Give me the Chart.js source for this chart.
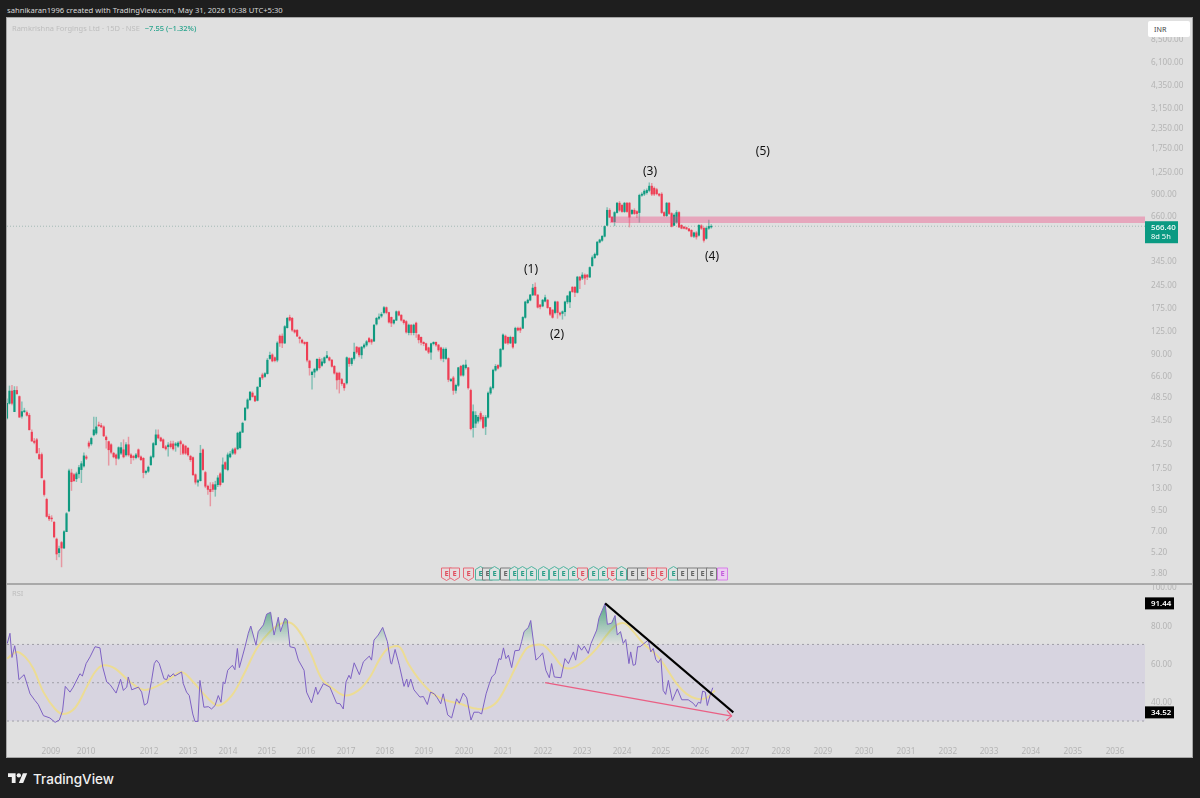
<!DOCTYPE html>
<html>
<head>
<meta charset="utf-8">
<title>Ramkrishna Forgings Ltd</title>
<script src="https://cdn.jsdelivr.net/npm/chart.js@4/dist/chart.umd.min.js"></script>
<style>
html,body{margin:0;padding:0;background:#1e1e1e;width:1200px;height:798px;overflow:hidden}
body{position:relative;font-family:"Noto Sans",sans-serif}
#head{position:absolute;left:7px;top:4px;color:#d8d8d8;font-size:7.65px;line-height:12px;white-space:nowrap}
#panel{position:absolute;left:7px;top:18px;width:1185px;height:739px;background:#e0e0e0;box-shadow:0 0 0 1px #a6a6a6}
#split{position:absolute;left:7px;top:582.5px;width:1185px;height:2px;background:#a9a9a9}
#priceChart{position:absolute;left:7px;top:18px}
#rsiChart{position:absolute;left:7px;top:583px}
#legend{position:absolute;left:12px;top:23px;font-size:7.5px;line-height:11px;color:#bdbdbd;white-space:nowrap}
#legend b{font-weight:500;color:#27a38c;margin-left:3px}
#rsiName{position:absolute;left:12px;top:588px;font-size:7.5px;line-height:11px;color:#bdbdbd}
#inr{position:absolute;left:1148px;top:21px;width:36px;padding-left:6px;height:16px;line-height:16px;background:#fff;border-radius:2px;font-size:7.2px;color:#444}
#logo{position:absolute;left:8px;top:772.5px}
#brand{position:absolute;left:33px;top:769px;color:#f0f0f0;font-family:Inter,sans-serif;font-weight:500;font-size:13.5px;line-height:20px}
</style>
</head>
<body>
<div id="panel"></div>
<canvas id="priceChart" width="1185" height="565"></canvas>
<canvas id="rsiChart" width="1185" height="174"></canvas>
<div id="split"></div>
<div id="head">sahnikaran1996 created with TradingView.com, May 31, 2026 10:38 UTC+5:30</div>
<div id="legend">Ramkrishna Forgings Ltd · 15D · NSE <b>−7.55 (−1.32%)</b></div>
<div id="rsiName">RSI</div>
<div id="inr">INR</div>
<svg id="logo" width="19.5" height="10" viewBox="0 4 36 18"><path fill="#f0f0f0" d="M14 22H7V11H0V4h14v18zM28 22h-8l7.5-18h8L28 22z"/><circle fill="#f0f0f0" cx="20" cy="8" r="4"/></svg>
<div id="brand">TradingView</div>
<script>
// 15D candles
const opens = [
 35.5,44,52.5,39,53,48.5,36.5,39,38.5,37,
 29,25.5,26,21,21,14.4,11,8.6,8.4,7.9,
 6.2,5.1,5.9,5.45,6.9,9.3,16.1,15.7,14.8,15.9,
 16.9,17.8,20.3,24.8,24.5,27.9,28.6,32.2,31.9,31.3,
 27,25.3,24.2,21.4,20.9,19.9,21.4,22.5,20.9,24.2,
 20.9,20.5,20.1,22.5,20.3,19.9,16.2,16.5,18.1,20.3,
 24.2,27.9,26.7,26,23.5,23.5,24.5,24.5,24,23.7,
 25.3,24.2,23.7,23,20.5,20.1,15.7,14.1,14.4,22.5,
 16.2,13.3,12.7,13.6,12.7,13.6,15.9,14.1,18.7,16.9,
 20.3,21.4,22.8,22.8,23.2,29,34.6,41,46.2,51,
 48.8,45.9,56,66.3,64.8,67.5,84,88.5,85,82,
 116,116,105,131,152,150,126,126,114,109.5,
 106,106,81,66.5,69,71,83,76,79,85,
 85,82,75,68,68,62,58.5,59,84,78,
 84,99,98,88.5,99,102,112,110,108,138,
 150,155,163,175,163,152,140,146,165,157,
 146,143,122,136,122,140,118,114,106,104,
 98,92,104,106,102,98,84,84,84,61,
 63.5,53,57,75,66,73.5,73.5,53,31,33,
 34,38,36,31.5,36,51,55,71,76,75,
 96,116,114,105,114,105,130,130,130,152,
 188,195,210,235,210,182,179,192,195,175,
 169,163,190,162,161,165,190,190,235,235,
 218,272,268,280,280,272,320,360,375,450,
 462,490,574,713,645,605,690,790,766,700,
 790,790,680,713,700,690,885,900,920,950,
 1010,980,960,900,900,690,660,790,680,574,
 600,690,574,560,555,545,534,490,515,497,
 570,550,475,550,560]
const closes = [
 44,52.5,44,53,50.5,36,39,39.5,37,30,
 25.5,25,21.5,19.8,15,11.8,8.6,8.3,8.3,6.4,
 5,5.4,5.45,6.9,8.95,16.6,14.2,14.4,15.9,17.4,
 18.4,20.6,19.9,23.7,26.5,30,31.3,31.8,31.3,27.5,
 26,22.5,21.7,20.3,19.9,23.2,23.2,20.3,24.2,20.9,
 20.1,20.1,20.9,20.3,19.5,16.2,16.5,17.5,20.3,24.6,
 27.9,26.7,25.6,23.2,22.8,24.1,23.5,22.8,24.5,24.8,
 24.5,21.4,21.4,20.9,19.5,15.7,14.1,14.4,21.4,16.9,
 13.3,12.7,12.3,12.7,13.6,15,13.6,18.1,17.1,20.9,
 21.2,22.5,21.4,28.6,29,33,41,46.2,51.8,48.5,
 45.5,55.5,63.5,63.5,67.5,82,88,81,81.5,105,
 105,105,133,150,146,126.5,123,116,112,106,
 104,82,73.5,69,72,83,73.5,80,85,87.5,
 82,75,68,61.6,62,58.5,55,85,78,84,
 92,92,88.5,99,102,107,107,106.5,136,150,
 153,159,175,163,142,140,146,165,157,146,
 141,123,136,122,136,122,110,106,104,95,
 92,104,106,102,95,84,96,96,62,62,
 53,57,73.5,66,76,76.5,55,30.5,39,37,
 36,35,31,36,51,55,71,75,73,96,
 118,105,105,114,99,130,126.5,126.5,152,190,
 195,210,232,210,176,177,195,202,175,159,
 152,190,163,159,165,190,207,220,220,218,
 272,260,280,268,272,312,360,378,450,465,
 490,565,713,645,605,690,790,713,700,790,
 700,645,713,680,680,885,900,940,950,1010,
 900,900,905,885,690,660,790,680,565,665,
 690,560,550,550,545,530,490,515,485,574,
 550,462,550,565,566.4]
const highs = [
 47,56.5,57,56,56,49,45,41,39.5,38,
 30,26.5,26.5,23,21.5,14.6,11.2,8.9,8.7,8,
 6.3,5.6,6,7,9.1,17,17,16,16.3,18,
 19,21.5,20.8,25.5,27,36,36,33.5,33,31.8,
 27.5,25.5,24.6,21.7,21.2,23.5,25,26,25,27,
 21.3,20.8,21.4,22.8,20.6,20.1,16.8,17.8,20.6,25,
 30,30,27,26.3,24,25,25.5,25.5,25,25.3,
 25.8,24.5,24,23.3,20.8,20.3,15.9,14.7,24,22.8,
 16.5,13.5,14,14,14.3,15.5,16.2,20,19,21.5,
 22,23,23.2,29,29.5,33.5,41.5,47,52,52,
 49,56,64,68,68.5,84,92,90,86,107,
 118,120,135,152,157,152,128,128,116,111,
 107,107,82,70,73,84,85,84,86,93,
 86,83,76,69,69,63,59,86,85,85,
 105,100,99,100,104,109,114,111,137,152,
 160,163,178,177,164,153,147,167,167,158,
 147,145,138,137,138,142,119,115,107,105,
 99,105,107,107,103,99,98,98,85,63,
 65,58,74,76,77,82,74,54,43,39,
 37,39,37,37,52,56,72,77,77,97,
 120,118,115,116,115,132,132,132,154,192,
 198,212,245,250,211,183,197,210,197,176,
 170,192,192,164,167,192,209,222,237,237,
 275,275,290,285,283,315,370,385,455,470,
 495,570,740,730,650,700,800,810,780,800,
 800,800,720,730,710,900,920,960,970,1060,
 1050,1000,980,910,920,700,800,800,690,680,
 710,700,580,565,560,550,540,520,525,580,
 580,560,560,620,580]
const lows = [
 35,43.5,43,39,50,36,35.5,38.5,36.5,30,
 25.5,24.5,21.5,19.5,15,11.5,8.5,8.1,8,6.3,
 4.6,4.8,4.15,5.4,6.9,9.2,12.5,14.2,14.2,15,
 14,17.5,19.5,23,24,27.5,28,31.5,31,27.2,
 23,18,21.2,20,18.1,19.6,21,20,20.5,20.5,
 18.4,19.4,19.7,20,19.2,15,15.8,16.2,18,20,
 24,26.3,25.3,23,22.4,20.5,23,22.4,22,23.3,
 21,21,21,20.5,19,15.5,13.7,13.3,14.3,16.7,
 13,11.8,10,12.3,11.5,13.2,13.3,14,16.9,16.6,
 20,21,21,22.5,22.8,28.8,34.2,40.5,46,48,
 45,45.5,55.8,62,64,67,83,80,80,80,
 100,98,104,130,144,124,121,115,105,104,
 102,80,66,54,64,70,72,75,78,84,
 81,74,67,54,51,57,53,58,75,76,
 82,90,86,84,97,100,105,103,107,136,
 147,152,160,160,140,133,138,145,155,144,
 138,121,118,118,118,114,105,102,101,94,
 90,83,102,100,93,82,80,83,60,60,
 50,51,56,65,65,72,54,30,27,31,
 33,34,30.5,28,35.5,50,54,70,72,74,
 95,104,103,104,97,104,125,122,129,150,
 185,193,208,208,174,172,177,190,173,156,
 150,160,150,155,148,155,185,175,218,205,
 216,230,262,245,262,270,318,355,370,445,
 455,485,570,640,600,570,685,700,690,690,
 690,560,670,670,640,600,870,880,900,930,
 880,880,890,870,680,650,650,670,560,570,
 590,555,545,545,540,525,485,480,470,490,
 540,450,470,540,550]

const priceTicks = [8500,6100,4350,3150,2350,1750,1250,900,660,345,245,175,125,90,66,48.5,34.5,24.5,17.5,13,9.5,7,5.2,3.8]
const lastPrice = 566.4
const zoneTop = 651
const zoneBottom = 593
const zoneStart = 243

const waveLabels = ["(1)","(2)","(3)","(4)","(5)"]
const waveBars = [211.3,221.8,259.3,284.3,304.8]
const wavePrices = [305,119,1250,367,1668]

const earningsBars = [177,180.2,185.9,190.7,193.5,196.4,200.8,204.4,207.7,211.3,216.1,220.6,224.2,228.2,231.9,236.3,240.3,244,247.6,252,256,260.1,263.7,268.5,272.2,276.2,280.2,283.9,288.3]
const earningsKinds = ["miss","miss","miss","beat","none","beat","none","beat","beat","beat","beat","beat","beat","beat","miss","beat","beat","miss","beat","none","none","miss","miss","beat","none","none","none","none","next"]

// time axis, positions in bars
const yearLabels = ["2009","2010","2012","2013","2014","2015","2016","2017","2018","2019","2020","2021","2022","2023","2024","2025","2026","2027","2028","2029","2030","2031","2032","2033","2034","2035","2036"]
const yearBars = [17.7,31.9,57.3,73,89.1,104.8,120.6,136.7,152.4,168.1,184.3,200,216.1,231.9,248,263.7,279.4,295.6,312.1,329,345.6,362.5,379.4,396,412.9,429.8,446.8]
const lastBar = 458.9

// RSI line, knots
const rsiBars = [0.1,1.2,2,3.1,3.9,4.8,6.9,9.3,11.3,12.6,14.7,17.3,19.4,21.1,22.4,23.5,25.4,26.7,29.4,30.4,31.9,33.5,35.5,37.5,38.6,40.2,41.5,44,45.8,46.9,48.3,48.9,50.3,53,54.3,55.4,56.6,58.3,59.4,60.3,61.4,63.3,64.4,65.1,65.7,67.1,67.7,70.4,71.1,72.4,73.5,74.9,75.8,77,77.8,79.4,81.2,82.5,83.9,85.2,86.3,87.2,87.9,89,90.9,91.9,92.9,93.7,96,97.3,98.3,100.4,101.3,103.4,104.7,106.3,107.7,109.4,110.3,112.1,113,114.1,116.1,117.5,119.8,120.8,122.8,124.5,125.3,127.6,130.2,132.9,134.3,135.6,136.7,137.9,138.6,140,142.1,143.7,146.1,147,148,149.7,151.5,153.4,154.7,155.1,156.5,158.2,160.1,161.2,161.8,162.8,164.1,166.5,167.9,169.5,170.8,172.3,173.5,174.9,175.9,177.7,179.3,181.3,182.4,184,185.4,187.1,188.3,190.1,191.4,193.2,194.5,195.5,196.8,198.4,199.2,200.2,201.2,202.2,203.5,204.8,206.6,207.5,208.5,210.2,211.2,212.2,213.3,214.7,216,217.3,218.7,219.6,220.7,223.4,225,226.4,228.4,229.3,230.4,231.7,232.8,234.4,235.5,237.8,238.7,241.2,242.1,243.8,245.2,246.1,247.4,248.5,249.5,250.8,251.5,252.5,253.4,254.3,255.3,258.6,259.6,260.6,261.6,262.6,263.7,264.6,265.6,266.7,268.3,270.3,272.1,274.7,276.7,277.8,278.8,279.7,280.5,281.6,282.4,283.5,284.6]
const rsiValues = [70.5,75.8,63.2,69.3,63.5,51.6,54.2,44.2,40.7,38.6,32.8,31.6,29.3,30.5,35.4,48.1,45.1,47.7,54.7,53.5,60,63.5,68.8,68.2,58.2,50.4,49.1,44.6,51.8,46,47.7,53,46.3,47.7,45.1,38.3,39.3,51.2,60,61.8,60,52.1,51.6,54.2,53,54.7,53.5,55.6,49.5,45.1,43.3,33.7,29.8,29.8,51.2,37.2,37.5,36.3,38.1,43.3,39.8,50.4,49.5,56.5,59.1,56.8,67.9,57.9,68.8,75.8,79.6,69.6,76.7,80.2,85.8,86.8,74.9,84.2,76.7,83.7,82.8,68.8,68.2,61.8,56.5,45.1,39.5,47.7,43.9,49.5,47.7,39.3,39,36.3,50.4,53.9,52.1,60.4,54.2,60.9,63.9,61.8,72.3,74.9,78.9,71.4,60.4,59.7,67.4,59.1,48.1,51.9,47.7,51.9,46.3,42.5,42.8,38.6,45.1,44.2,42.1,39,44.2,33.2,31.6,41.6,39.3,44.6,42.1,30.5,34.6,34.6,33.7,44.2,49.5,53,54.7,62.6,62.1,68.2,62.6,64.4,57.9,66.7,67,71.4,76.7,78.8,82.5,72.3,61.8,63.5,65.6,56.5,52.6,60,53,52.6,62.6,60,66.1,61.8,69.6,67,69.1,65.3,70.5,77.5,83.7,91.44,80.5,81.1,85.1,74.9,76.7,70.5,72.6,60,66.1,59.1,59.5,68.8,68.8,72.3,66.1,67.9,62.1,60.4,62.6,46,43.9,51.2,40.7,46.8,41.1,41.1,39.3,37.5,39.8,39.3,45.6,45.1,38.1,43.3,47.4]

// RSI moving average
const maBars = [0.1,3.9,7.3,10.6,14.7,19.4,22.7,27.4,32.1,35.5,38.8,43.6,49.6,55,60.3,65.7,70.4,75.1,80.5,85.2,90.6,95.3,100.7,106,110.8,114.8,118.8,122.8,126.9,131.6,136.3,141.7,146.4,150.4,153.8,158.2,161.8,166.5,171.9,177.3,182.7,188,192.7,197.4,201.5,205.5,209.5,212.2,216.2,220.3,224.3,228.4,233.7,237.8,241.8,245.8,249.2,252.6,256.6,262,266,270,274,278.1,282.1,285.5]
const maValues = [62.6,66.1,63.5,57.4,45.1,36.3,33.7,36.8,47.7,55.6,59.1,57.4,50.4,46.3,48.1,52.1,55.6,50.4,42.5,38.1,43.3,53.9,67.9,76.7,81,81,74.9,64.4,52.1,46.8,43.3,46,53,62.6,67.9,68.8,60,51.2,44.2,40.7,39,36.7,36.3,39.8,48.6,59.1,67.9,69.6,69.6,64.4,58.2,57.9,62.6,67.9,74.9,80.2,81,76.7,70.5,64.4,57.4,49.5,44.2,41.6,42.1,46]

const rsiTicks = [100,80,60,40]
const rsiBands = [70,50,30]
const rsiTags = [91.44,34.52]

// drawn trend lines on the RSI pane
const blackLineBars = [241.2,292.9]
const blackLineValues = [91.44,34.52]
const redLineBars = [217,292.2]
const redLineValues = [50.1,32.6]
const arrowBars = [290.3,292.2,290]
const arrowValues = [35.6,32.6,30.2]

const FONT = '"Noto Sans", sans-serif'
const TICK = "#b4b4b4"

Chart.defaults.font.family = FONT
Chart.defaults.devicePixelRatio = 1

const flat = (bars, vals) => bars.map((x, i) => ({x: x, y: vals[i]}))
const candleColor = (a) => opens.map((o, i) => {
    const up = closes[i] >= o
    return up ? "rgba(15,154,128," + a + ")" : "rgba(238,62,84," + a + ")"
})

const timeScale = {
    type: "linear",
    min: 0,
    max: lastBar,
    offset: false,
    grid: {display: false, drawTicks: false},
    border: {display: false},
    afterBuildTicks: s => { s.ticks = yearBars.map(v => ({value: v})) },
    afterFit: s => { s.paddingLeft = 0; s.paddingRight = 0 },
    ticks: {
        autoSkip: false,
        maxRotation: 0,
        padding: 12,
        color: TICK,
        font: {size: 8.2},
        callback: (v, i) => yearLabels[i]
    }
}

const wavePlugin = {
    id: "waves",
    afterDatasetsDraw(chart) {
        const {ctx, scales} = chart
        ctx.save()
        ctx.fillStyle = "#111"
        ctx.font = "12px " + FONT
        ctx.textAlign = "center"
        ctx.textBaseline = "middle"
        waveLabels.forEach((t, i) => {
            ctx.fillText(t, scales.x.getPixelForValue(waveBars[i]), scales.y.getPixelForValue(wavePrices[i]))
        })
        ctx.restore()
    }
}

const earningsStyle = {
    miss: {line: "#e66a78", fill: "#e6dcdd", text: "#e0505f"},
    beat: {line: "#4fb39f", fill: "#dfe3e2", text: "#2a9d87"},
    none: {line: "#7c7c7c", fill: "#e0e0e0", text: "#666"},
    next: {line: "#d77fe8", fill: "#eccdf2", text: "#c45fdc"}
}

const earningsPlugin = {
    id: "earnings",
    afterDatasetsDraw(chart) {
        const {ctx, scales, chartArea} = chart
        const top = chartArea.bottom - 15
        const bottom = chartArea.bottom - 3
        ctx.save()
        ctx.font = "bold 7.5px " + FONT
        ctx.textAlign = "center"
        ctx.textBaseline = "middle"
        earningsBars.forEach((b, i) => {
            const kind = earningsKinds[i]
            const st = earningsStyle[kind]
            const x = Math.round(scales.x.getPixelForValue(b)) + 0.5
            ctx.beginPath()
            if (kind == "beat") {
                ctx.moveTo(x, top - 1.5)
                ctx.lineTo(x + 5, top + 1.5)
                ctx.lineTo(x + 5, bottom)
                ctx.lineTo(x - 5, bottom)
                ctx.lineTo(x - 5, top + 1.5)
            } else if (kind == "miss") {
                ctx.moveTo(x - 5, top)
                ctx.lineTo(x + 5, top)
                ctx.lineTo(x + 5, bottom - 2.5)
                ctx.lineTo(x, bottom + 0.5)
                ctx.lineTo(x - 5, bottom - 2.5)
            } else {
                ctx.rect(x - 5, top, 10, bottom - top)
            }
            ctx.closePath()
            ctx.fillStyle = st.fill
            ctx.fill()
            ctx.strokeStyle = st.line
            ctx.lineWidth = 1
            ctx.stroke()
            ctx.fillStyle = st.text
            ctx.fillText("E", x, (top + bottom) / 2)
        })
        ctx.restore()
    }
}

const priceTagPlugin = {
    id: "priceTag",
    afterDraw(chart) {
        const {ctx, scales, chartArea} = chart
        const y = scales.y.getPixelForValue(lastPrice)
        ctx.save()
        ctx.fillStyle = "#0a9a82"
        ctx.fillRect(chartArea.right, y - 5, 33, 22)
        ctx.textAlign = "left"
        ctx.textBaseline = "middle"
        ctx.fillStyle = "#fff"
        ctx.font = "500 7.9px " + FONT
        ctx.fillText(lastPrice.toFixed(2), chartArea.right + 6, y + 1.5)
        ctx.font = "7.5px " + FONT
        ctx.fillText("8d 5h", chartArea.right + 6, y + 11)
        ctx.restore()
    }
}

const rsiTagPlugin = {
    id: "rsiTags",
    afterDraw(chart) {
        const {ctx, scales, chartArea} = chart
        ctx.save()
        ctx.textAlign = "left"
        ctx.textBaseline = "middle"
        ctx.font = "600 7.9px " + FONT
        rsiTags.forEach(v => {
            const y = scales.y.getPixelForValue(v)
            ctx.fillStyle = "#000"
            ctx.fillRect(chartArea.right, y - 6, 29, 12)
            ctx.fillStyle = "#fff"
            ctx.fillText(v.toFixed(2), chartArea.right + 6, y + 0.5)
        })
        ctx.restore()
    }
}

new Chart(document.getElementById("priceChart").getContext("2d"), {
    type: "bar",
    data: {
        datasets: [
            {
                type: "line",
                data: [{x: zoneStart, y: zoneTop}, {x: lastBar, y: zoneTop}],
                borderWidth: 0,
                pointRadius: 0,
                backgroundColor: "rgba(240,70,130,0.38)",
                fill: "+1",
                order: 0
            },
            {
                type: "line",
                data: [{x: zoneStart, y: zoneBottom}, {x: lastBar, y: zoneBottom}],
                borderWidth: 0,
                pointRadius: 0,
                fill: false,
                order: 0
            },
            {
                type: "line",
                data: [{x: 0, y: lastPrice}, {x: lastBar, y: lastPrice}],
                borderColor: "rgba(90,140,130,0.45)",
                borderWidth: 1,
                borderDash: [1, 2],
                pointRadius: 0,
                order: 1
            },
            {
                data: opens.map((o, i) => ({x: i, y: [o, closes[i]]})),
                backgroundColor: candleColor(1),
                barThickness: 1.5,
                grouped: false,
                order: 2
            },
            {
                data: opens.map((o, i) => ({x: i, y: [lows[i], highs[i]]})),
                backgroundColor: candleColor(0.45),
                barThickness: 0.8,
                grouped: false,
                order: 3
            }
        ]
    },
    options: {
        responsive: false,
        animation: false,
        layout: {padding: 0},
        plugins: {legend: {display: false}, tooltip: {enabled: false}},
        scales: {
            x: {...timeScale, display: false},
            y: {
                type: "logarithmic",
                position: "right",
                min: 3.29,
                max: 11430,
                grid: {display: false, drawTicks: false},
                border: {display: false},
                afterBuildTicks: s => { s.ticks = priceTicks.map(v => ({value: v})) },
                afterFit: s => { s.width = 47; s.paddingTop = 0; s.paddingBottom = 0 },
                ticks: {
                    autoSkip: false,
                    padding: 6,
                    labelOffset: 1,
                    color: TICK,
                    font: {size: 8.2},
                    callback: v => v.toLocaleString("en-US", {minimumFractionDigits: 2, maximumFractionDigits: 2})
                }
            }
        }
    },
    plugins: [earningsPlugin, wavePlugin, priceTagPlugin]
})

const rsiCtx = document.getElementById("rsiChart").getContext("2d")
const overbought = rsiCtx.createLinearGradient(0, 20, 0, 61)
overbought.addColorStop(0, "rgba(20,140,90,0.7)")
overbought.addColorStop(1, "rgba(20,140,90,0)")

const flatLine = (value, bars) => bars.map(x => ({x: x, y: value}))
const bandStyle = {
    borderColor: "#a09fa8",
    borderWidth: 1,
    borderDash: [2, 3],
    pointRadius: 0
}

// later datasets paint first, so the band fill goes last to stay under its dashed lines
new Chart(rsiCtx, {
    type: "line",
    data: {
        datasets: [
            {data: flat(blackLineBars, blackLineValues), borderColor: "#000", borderWidth: 2, pointRadius: 0},
            {data: flat(redLineBars, redLineValues), borderColor: "#ea5f84", borderWidth: 1.2, pointRadius: 0},
            {data: flat(arrowBars, arrowValues), borderColor: "#ea5f84", borderWidth: 1.2, pointRadius: 0},
            {data: flat(rsiBars, rsiValues), borderColor: "#7e62c4", borderWidth: 1, pointRadius: 0, tension: 0,
                fill: {target: {value: 70}, above: overbought, below: "rgba(0,0,0,0)"}},
            {data: flat(maBars, maValues), borderColor: "#ecdc94", borderWidth: 2, pointRadius: 0, tension: 0.35},
            {...bandStyle, data: flatLine(rsiBands[0], [0, lastBar])},
            {...bandStyle, data: flatLine(rsiBands[1], [0, lastBar])},
            {...bandStyle, data: flatLine(rsiBands[2], [0, lastBar])},
            {data: flatLine(rsiBands[0], [0, lastBar]), borderWidth: 0, pointRadius: 0, backgroundColor: "#d7d4e0", fill: "+1"},
            {data: flatLine(rsiBands[2], [0, lastBar]), borderWidth: 0, pointRadius: 0, fill: false}
        ]
    },
    options: {
        responsive: false,
        animation: false,
        layout: {padding: {top: 2}},
        plugins: {legend: {display: false}, tooltip: {enabled: false}},
        scales: {
            x: {...timeScale, afterFit: s => { s.height = 22; s.paddingLeft = 0; s.paddingRight = 0 }},
            y: {
                type: "linear",
                position: "right",
                min: 22.7,
                max: 101.04,
                grid: {display: false, drawTicks: false},
                border: {display: false},
                afterBuildTicks: s => { s.ticks = rsiTicks.map(v => ({value: v})) },
                afterFit: s => { s.width = 47; s.paddingTop = 0; s.paddingBottom = 0 },
                ticks: {
                    autoSkip: false,
                    padding: 6,
                    labelOffset: 1,
                    color: TICK,
                    font: {size: 8.2},
                    callback: v => v.toFixed(2)
                }
            }
        }
    },
    plugins: [rsiTagPlugin]
})
</script>
</body>
</html>
